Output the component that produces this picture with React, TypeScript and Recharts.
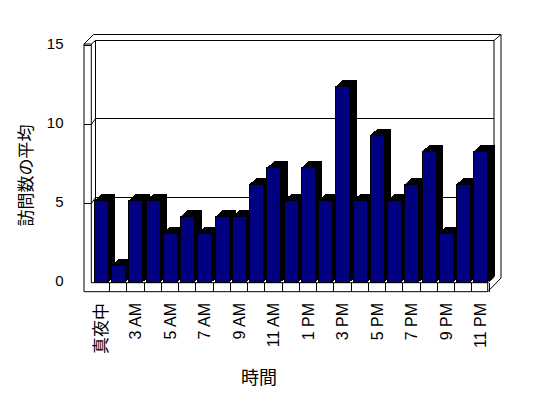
import { BarChart, Bar, XAxis, YAxis, CartesianGrid } from "recharts";

// hours of the day (1 AM/2 AM: only one of the two is in the chart)
const hours = [
  "真夜中", "1 AM", "3 AM", "4 AM", "5 AM", "6 AM", "7 AM", "8 AM", "9 AM", "10 AM", "11 AM", "正午",
  "1 PM", "2 PM", "3 PM", "4 PM", "5 PM", "6 PM", "7 PM", "8 PM", "9 PM", "10 PM", "11 PM",
];
const visits = [5, 1, 5, 5, 3, 4, 3, 4, 4, 6, 7, 5, 7, 5, 12, 5, 9, 5, 6, 8, 3, 6, 8];
const yTicks = [0, 5, 10, 15];

const data = hours.map((h, i) => ({ hour: h, visits: visits[i] }));

const NAVY = "#000080";
const LATIN = "'Liberation Sans', 'Noto Sans CJK JP', sans-serif";
const CJK = "'Noto Sans CJK JP', sans-serif";

// plot bottom (front of bars) and the 3d depth of a bar
const BASE = 282;
const DX = 7;
const DY = 6.5;

// front axis strip and back wall are slightly compressed vs. the bars
const toAxisY = (y: number) => 282.7 - (BASE - y) * 0.9706;
const toWallY = (y: number) => 276.3 - (BASE - y) * 0.9675;

const Box3D = (props: any) => {
  const { x, y, width: w, height: h } = props;
  if (!h || h <= 0) return <g />;
  return (
    <g shapeRendering="crispEdges">
      <polygon
        points={`${x + w},${y} ${x + w + DX},${y - DY} ${x + w + DX},${y + h - DY} ${x + w},${y + h}`}
        fill="#000"
      />
      <polygon
        points={`${x},${y} ${x + DX},${y - DY} ${x + w + DX},${y - DY} ${x + w},${y}`}
        fill="#000"
      />
      <rect x={x} y={y} width={w} height={h} fill={NAVY} stroke="#000" strokeWidth={1} />
    </g>
  );
};

const gridLine = (props: any) => {
  const y = props.y1;
  const ya = toAxisY(y);
  const yb = toWallY(y);
  const v = Math.round((BASE - y) / 16.3);
  return (
    <g key={props.key ?? `g-${props.index}`} stroke="#000" strokeWidth={1} shapeRendering="crispEdges">
      {v > 0 && <line x1={84} y1={ya} x2={91.3} y2={ya} />}
      {v > 0 && v < 15 && (
        <>
          <line x1={91.3} y1={ya} x2={95.5} y2={yb} shapeRendering="auto" />
          <line x1={95.5} y1={yb} x2={494} y2={yb} />
        </>
      )}
    </g>
  );
};

const HourTick = (props: any) => {
  const { x, payload, index } = props;
  const half = payload?.offset || 8.6;
  const label = String(payload.value);
  const cjk = /[^\x00-\x7f]/.test(label);
  return (
    <g>
      <line x1={x + half} y1={282.7} x2={x + half} y2={291.7} stroke="#000" shapeRendering="crispEdges" />
      {index % 2 === 0 && (
        <text
          transform={`translate(${x + 5.5},303) rotate(-90)`}
          textAnchor="end"
          fontFamily={cjk ? CJK : LATIN}
          fontSize={cjk ? 17 : 16}
          fill="#000"
        >
          {label}
        </text>
      )}
    </g>
  );
};

const CountTick = (props: any) => {
  const { y, payload } = props;
  return (
    <text x={63.5} y={toAxisY(y) + 3.5} textAnchor="end" fontFamily={LATIN} fontSize={15} fill="#000">
      {payload.value}
    </text>
  );
};

const Frame = () => (
  <svg width={548} height={398} style={{ position: "absolute", left: 0, top: 0 }}>
    <rect width={548} height={398} fill="#fff" />
    <g stroke="#000" strokeWidth={1} fill="none">
      <path d="M84,291.7 L84,44 L93.5,34.5 L501,34.5 L501,278 L487.7,291.7 Z" />
      <path d="M84,44 L91.3,44 L95.5,40.5 L494,40.5 L501,34.5" />
      <path d="M91.3,44 L91.3,282.7 L487.7,282.7 L487.7,291.7" />
      <path d="M95.5,40.5 L95.5,277" />
      <path d="M487.7,282.7 L494,277.3 L494,40.5" />
    </g>
  </svg>
);

export default function App() {
  return (
    <div style={{ position: "absolute", left: 0, top: 0, width: 548, height: 398 }}>
      <Frame />
      <div style={{ position: "absolute", left: 0, top: 0 }}>
        <BarChart
          width={548}
          height={398}
          data={data}
          margin={{ top: 37.5, right: 58.85, left: 32.4, bottom: 36 }}
        >
          <CartesianGrid vertical={false} horizontal={gridLine} />
          <XAxis
            dataKey="hour"
            interval={0}
            height={80}
            tick={<HourTick />}
            tickLine={false}
            axisLine={false}
          />
          <YAxis
            domain={[0, 15]}
            ticks={yTicks}
            width={60}
            tick={<CountTick />}
            tickLine={false}
            axisLine={false}
          />
          <Bar dataKey="visits" barSize={14} shape={<Box3D />} isAnimationActive={false} />
        </BarChart>
      </div>
      <svg width={548} height={398} style={{ position: "absolute", left: 0, top: 0, pointerEvents: "none" }}>
        <text
          transform="translate(32,175.5) rotate(-90)"
          textAnchor="middle"
          fontFamily={CJK}
          fontSize={17}
          fill="#000"
        >
          訪問数の平均
        </text>
        <text x={259} y={384} textAnchor="middle" fontFamily={CJK} fontSize={18} fill="#000">
          時間
        </text>
      </svg>
    </div>
  );
}
